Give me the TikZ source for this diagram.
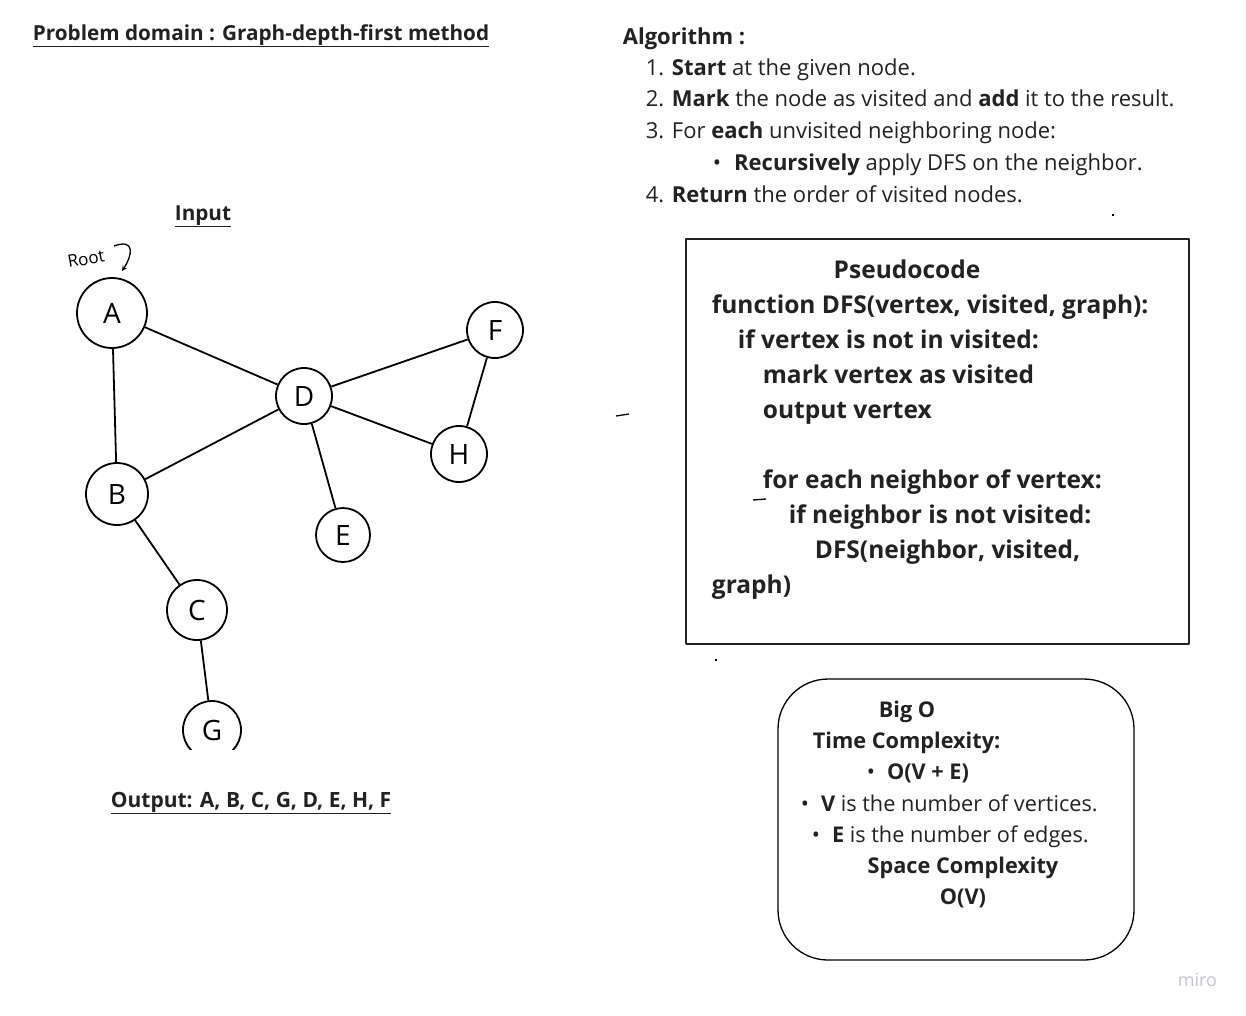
\documentclass[tikz,border=0pt]{standalone}
\usepackage{fontspec}
\setmainfont{Open Sans}
\definecolor{ink}{HTML}{222222}
\definecolor{mirogray}{HTML}{C4C4D0}
\begin{document}
\begin{tikzpicture}[x=1pt, y=-1pt, line join=bevel, line width=1.8pt]
	\tikzstyle{vertex} = [draw, shape=circle, inner sep=0pt, line width=1.8pt, font=\fontsize{28}{30}\selectfont];
	\tikzstyle{txt} = [anchor=base west, inner sep=0pt, text=ink, font=\fontsize{22}{26}\selectfont];
	\tikzstyle{head} = [anchor=base west, inner sep=0pt, text=ink, font=\fontsize{20.7}{24}\selectfont\bfseries];
	\tikzstyle{code} = [anchor=base west, inner sep=0pt, text=ink, font=\fontsize{24.5}{28}\selectfont\bfseries];
	\tikzstyle{bigo} = [anchor=base west, inner sep=0pt, text=ink, font=\fontsize{21.7}{25}\selectfont];

	\useasboundingbox[fill=white] (0,0) rectangle (1246,1015);

	\node[head] at (32,40) (title) {\underline{Problem domain : Graph-depth-first method}};
	\node[head] at (174,220) (input) {\underline{Input}};
	\node[head, font=\fontsize{21}{24}\selectfont\bfseries] at (110,807) (output) {\underline{Output: A, B, C, G, D, E, H, F}};

	\node[vertex, minimum size=70pt] at (112,313) (A) {A};
	\node[vertex, minimum size=62pt] at (117,494) (B) {B};
	\node[vertex, minimum size=60pt] at (197,610) (C) {C};
	\node[vertex, minimum size=56pt] at (304,396) (D) {D};
	\node[vertex, minimum size=54pt] at (343,535) (E) {E};
	\node[vertex, minimum size=56pt] at (459,454) (H) {H};
	\node[vertex, minimum size=56pt] at (495,330) (F) {F};
	\begin{scope}
		\clip (150,690) rectangle (280,749);
		\node[vertex, minimum size=58pt] at (212,730) (G) {G};
	\end{scope}

	\draw (A) -- (B);
	\draw (A) -- (D);
	\draw (B) -- (D);
	\draw (B) -- (C);
	\draw (C) -- (G);
	\draw (D) -- (F);
	\draw (D) -- (H);
	\draw (D) -- (E);
	\draw (F) -- (H);

	\node[anchor=base west, inner sep=0pt, rotate=10, font=\fontsize{17}{18}\selectfont] at (68,268) (root) {Root};
	\coordinate (rootend) at (122,271);
	\draw[->, >=stealth, line width=1.3pt] (114,246) .. controls (136,238) and (132,256) .. (rootend);

	\node[txt, font=\fontsize{22}{26}\selectfont\bfseries] at (622,44) (algo) {Algorithm :};
	\node[txt] at (645,75) (step1) {1. \textbf{Start} at the given node.};
	\node[txt] at (645,106) (step2) {2. \textbf{Mark} the node as visited and \textbf{add} it to the result.};
	\node[txt] at (645,138) (step3) {3. For \textbf{each} unvisited neighboring node:};
	\node[txt] at (712,170) (step3a) {•\hspace{13pt}\textbf{Recursively} apply DFS on the neighbor.};
	\node[txt] at (645,202) (step4) {4. \textbf{Return} the order of visited nodes.};

	\draw[draw=ink, line width=1.5pt] (686,239) rectangle (1189,644);
	\node[code, anchor=base] at (907,278) (pseudo) {Pseudocode};
	\node[code] at (711,313) (c1) {function DFS(vertex, visited, graph):};
	\node[code] at (737,348) (c2) {if vertex is not in visited:};
	\node[code] at (762,383) (c3) {mark vertex as visited};
	\node[code] at (762,418) (c4) {output vertex};
	\node[code] at (762,488) (c5) {for each neighbor of vertex:};
	\node[code] at (788,523) (c6) {if neighbor is not visited:};
	\node[code] at (814,558) (c7) {DFS(neighbor, visited,};
	\node[code] at (711,593) (c8) {graph)};

	\draw[line width=1.3pt] (616,416) -- (629,414);
	\draw[line width=1.3pt] (753,500) -- (766,499);
	\fill (1112,214) rectangle (1114,216);
	\fill (715,659) rectangle (717,661);

	\draw[line width=1.3pt, rounded corners=50pt] (778,679) rectangle (1134,960);
	\node[bigo, font=\fontsize{21.7}{25}\selectfont\bfseries, anchor=base] at (907,717) (bigO) {Big O};
	\node[bigo, font=\fontsize{21.7}{25}\selectfont\bfseries] at (812,748) (time) {Time Complexity:};
	\node[bigo] at (866,779) (t1) {•\hspace{12pt}\textbf{O(V + E)}};
	\node[bigo] at (800,811) (t2) {•\hspace{12pt}\textbf{V} is the number of vertices.};
	\node[bigo] at (811,842) (t3) {•\hspace{12pt}\textbf{E} is the number of edges.};
	\node[bigo, font=\fontsize{21.7}{25}\selectfont\bfseries, anchor=base] at (963,873) (space) {Space Complexity};
	\node[bigo, font=\fontsize{21.7}{25}\selectfont\bfseries, anchor=base] at (963,904) (spaceO) {O(V)};

	\node[anchor=base west, inner sep=0pt, text=mirogray, font=\fontsize{18}{20}\selectfont] at (1177,986) (miro) {miro};
\end{tikzpicture}
\end{document}
